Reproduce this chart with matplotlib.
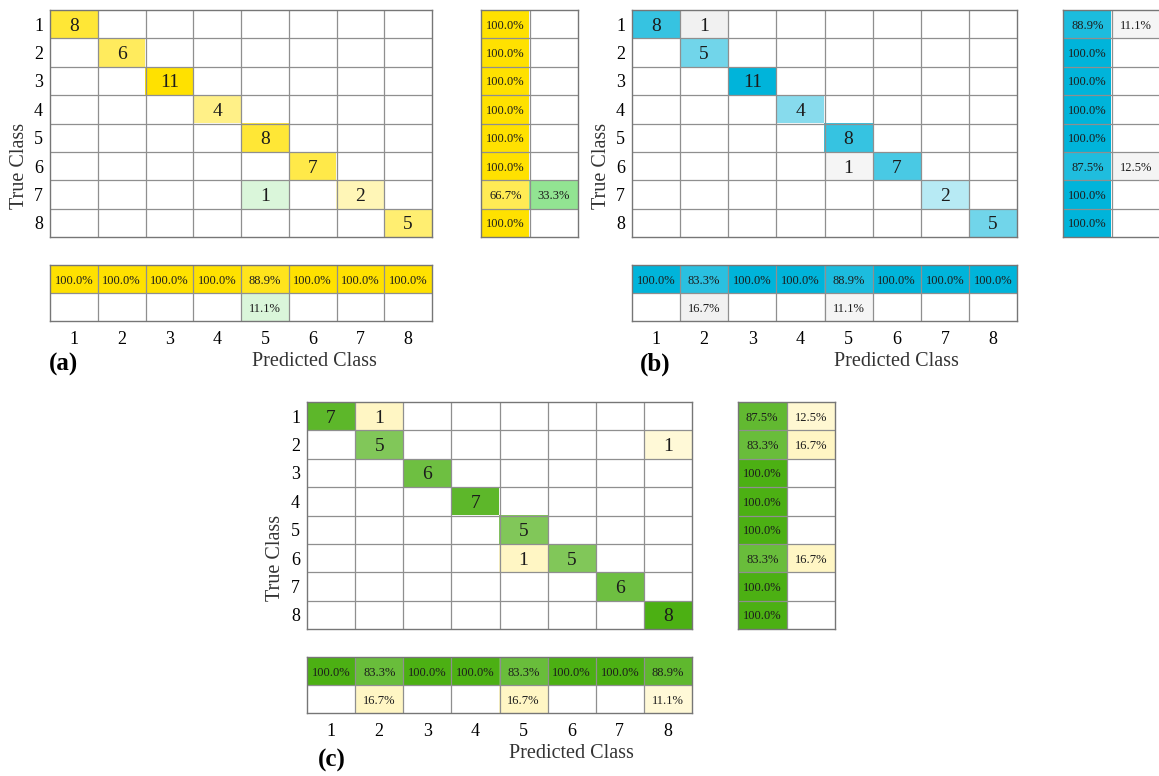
import numpy as np
import matplotlib
matplotlib.use("Agg")
import matplotlib.pyplot as plt
from matplotlib.colors import to_rgb

plt.rcParams['font.family'] = ['Liberation Serif', 'DejaVu Serif']

# ---- data -------------------------------------------------------------
class_labels = ['1', '2', '3', '4', '5', '6', '7', '8']

cm_a = [
    [8, 0, 0, 0, 0, 0, 0, 0],
    [0, 6, 0, 0, 0, 0, 0, 0],
    [0, 0, 11, 0, 0, 0, 0, 0],
    [0, 0, 0, 4, 0, 0, 0, 0],
    [0, 0, 0, 0, 8, 0, 0, 0],
    [0, 0, 0, 0, 0, 7, 0, 0],
    [0, 0, 0, 0, 1, 0, 2, 0],
    [0, 0, 0, 0, 0, 0, 0, 5],
]

cm_b = [
    [8, 1, 0, 0, 0, 0, 0, 0],
    [0, 5, 0, 0, 0, 0, 0, 0],
    [0, 0, 11, 0, 0, 0, 0, 0],
    [0, 0, 0, 4, 0, 0, 0, 0],
    [0, 0, 0, 0, 8, 0, 0, 0],
    [0, 0, 0, 0, 1, 7, 0, 0],
    [0, 0, 0, 0, 0, 0, 2, 0],
    [0, 0, 0, 0, 0, 0, 0, 5],
]

cm_c = [
    [7, 1, 0, 0, 0, 0, 0, 0],
    [0, 5, 0, 0, 0, 0, 0, 1],
    [0, 0, 6, 0, 0, 0, 0, 0],
    [0, 0, 0, 7, 0, 0, 0, 0],
    [0, 0, 0, 0, 5, 0, 0, 0],
    [0, 0, 0, 0, 1, 5, 0, 0],
    [0, 0, 0, 0, 0, 0, 6, 0],
    [0, 0, 0, 0, 0, 0, 0, 8],
]

panel_names = ['(a)', '(b)', '(c)']
diag_colors = ['#FFE100', '#00B4DA', '#4CB014']
off_colors = ['#92E492', '#F1F1F1', '#FFF6C4']

# ---- layout (pixels) --------------------------------------------------
W, H = 1159, 776
fig = plt.figure(figsize=(W / 100, H / 100), dpi=100)

GRID = '#8f8f8f'
EDGE = '#767676'
TXT = '#1c1c1c'


def px_axes(x0, y0, x1, y1):
    return fig.add_axes([x0 / W, 1 - y1 / H, (x1 - x0) / W, (y1 - y0) / H])


def blend(color, t):
    c = np.array(to_rgb(color))
    return 1.0 - (1.0 - c) * float(np.clip(t, 0, 1))


def draw_table(ax, rgb, texts, fontsize):
    nr, nc = rgb.shape[:2]
    ax.imshow(rgb, extent=(-0.5, nc - 0.5, nr - 0.5, -0.5), aspect='auto',
              interpolation='nearest')
    ax.set_xlim(-0.5, nc - 0.5)
    ax.set_ylim(nr - 0.5, -0.5)
    for k in range(1, nc):
        ax.axvline(k - 0.5, color=GRID, lw=0.9)
    for k in range(1, nr):
        ax.axhline(k - 0.5, color=GRID, lw=0.9)
    for s in ax.spines.values():
        s.set_color(EDGE)
        s.set_linewidth(1.0)
    ax.set_xticks([])
    ax.set_yticks([])
    for i in range(nr):
        for j in range(nc):
            if texts[i][j]:
                ax.text(j, i, texts[i][j], ha='center', va='center_baseline',
                        fontsize=fontsize, color=TXT)


def confusion_panel(cm, diag_c, off_c, left, top, width, name, name_xy):
    cm = np.asarray(cm, dtype=float)
    n = cm.shape[0]
    vmax = cm.max()
    row_tot = cm.sum(axis=1)
    col_tot = cm.sum(axis=0)
    diag = np.diag(cm)
    row_ok = 100 * diag / row_tot
    row_bad = 100 - row_ok
    col_ok = 100 * diag / col_tot
    col_bad = 100 - col_ok
    bad_max = max(row_bad.max(), col_bad.max())

    # main matrix
    rgb = np.ones((n, n, 3))
    txt = [[''] * n for _ in range(n)]
    for i in range(n):
        for j in range(n):
            v = cm[i, j]
            if v == 0:
                continue
            if i == j:
                rgb[i, j] = blend(diag_c, (v / vmax) ** 0.75)
            else:
                share = 100 * v / col_tot[j]
                rgb[i, j] = blend(off_c, share / bad_max)
            txt[i][j] = f'{int(v)}'
    ax = px_axes(left, top, left + width, top + 227)
    draw_table(ax, rgb, txt, 14)
    ax.set_yticks(range(n))
    ax.set_yticklabels(class_labels, fontsize=13)
    ax.tick_params(axis='y', length=0, pad=5)

    # row summary
    rgb_r = np.ones((n, 2, 3))
    txt_r = [['', ''] for _ in range(n)]
    for i in range(n):
        rgb_r[i, 0] = blend(diag_c, row_ok[i] / 100)
        txt_r[i][0] = f'{row_ok[i]:.1f}%'
        if row_bad[i] > 0.05:
            rgb_r[i, 1] = blend(off_c, row_bad[i] / bad_max)
            txt_r[i][1] = f'{row_bad[i]:.1f}%'
    axr = px_axes(left + 431, top, left + 528, top + 227)
    draw_table(axr, rgb_r, txt_r, 9)

    # column summary
    rgb_c = np.ones((2, n, 3))
    txt_c = [[''] * n for _ in range(2)]
    for j in range(n):
        rgb_c[0, j] = blend(diag_c, col_ok[j] / 100)
        txt_c[0][j] = f'{col_ok[j]:.1f}%'
        if col_bad[j] > 0.05:
            rgb_c[1, j] = blend(off_c, col_bad[j] / bad_max)
            txt_c[1][j] = f'{col_bad[j]:.1f}%'
    axc = px_axes(left, top + 255, left + width, top + 311)
    draw_table(axc, rgb_c, txt_c, 9)
    axc.set_xticks(range(n))
    axc.set_xticklabels(class_labels, fontsize=13)
    axc.tick_params(axis='x', length=0, pad=7)

    # axis titles and panel tag
    fig.text((left - 31) / W, 1 - (top + 156) / H, 'True Class', rotation=90,
             ha='center', va='center', fontsize=14.5, color='#333333')
    fig.text((left + 264) / W, 1 - (top + 352) / H, 'Predicted Class',
             ha='center', va='center', fontsize=14.5, color='#333333')
    fig.text(name_xy[0] / W, 1 - name_xy[1] / H, name, ha='center',
             va='center', fontsize=18, fontweight='bold', color='black')


confusion_panel(cm_a, diag_colors[0], off_colors[0], 50, 10, 382,
                panel_names[0], (63, 364))
confusion_panel(cm_b, diag_colors[1], off_colors[1], 632, 10, 385,
                panel_names[1], (655, 364))
confusion_panel(cm_c, diag_colors[2], off_colors[2], 307, 402, 385,
                panel_names[2], (332, 760))

fig.savefig('out.png', dpi=100, facecolor='white')
